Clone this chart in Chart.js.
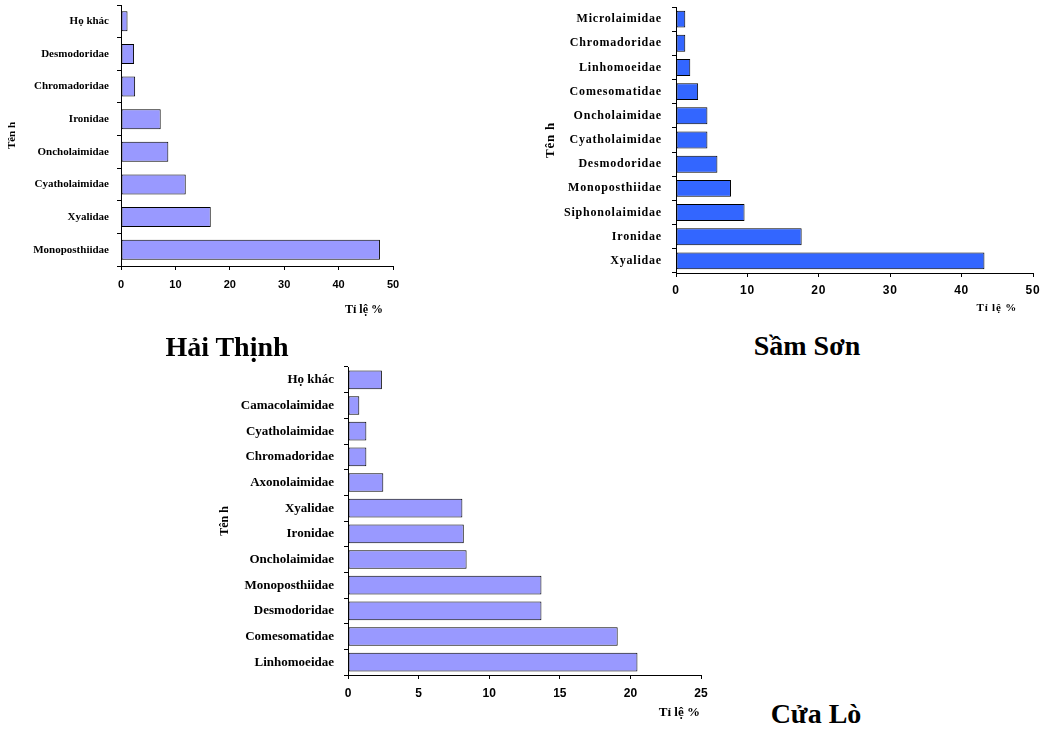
<!DOCTYPE html>
<html>
<head>
<meta charset="utf-8">
<title>Tỉ lệ các họ tuyến trùng</title>
<script src="https://cdn.jsdelivr.net/npm/chart.js@4/dist/chart.umd.min.js"></script>
<style>
  html, body { margin: 0; padding: 0; background: #fff; }
  body { position: relative; width: 1043px; height: 738px; overflow: hidden; }
  canvas { position: absolute; }
  .site {
    position: absolute;
    font: bold 28px "Liberation Serif", "Times New Roman", serif;
    line-height: 28px;
    white-space: nowrap;
    color: #000;
    transform: translateX(-50%);
  }
</style>
</head>
<body>
<canvas id="haiThinh" width="420" height="320" style="left:0;top:0"></canvas>
<canvas id="samSon" width="503" height="320" style="left:540px;top:0"></canvas>
<canvas id="cuaLo" width="540" height="378" style="left:210px;top:360px"></canvas>
<div class="site" style="left:227px;top:333px">Hải Thịnh</div>
<div class="site" style="left:807px;top:332px">Sầm Sơn</div>
<div class="site" style="left:816px;top:700px">Cửa Lò</div>

<script>
// Axis captions shared by the three panels
const valueAxisTitle = 'Tỉ lệ %';
const familyAxisTitle = 'Tên h';

// Hải Thịnh: families (top to bottom) and their share in %
const haiThinhFamilies = ['Họ khác', 'Desmodoridae', 'Chromadoridae', 'Ironidae',
  'Oncholaimidae', 'Cyatholaimidae', 'Xyalidae', 'Monoposthiidae'];
const haiThinhShares = [1.2, 2.4, 2.6, 7.3, 8.7, 11.9, 16.5, 47.6];
const haiThinhTicks = [0, 10, 20, 30, 40, 50];

// Sầm Sơn
const samSonFamilies = ['Microlaimidae', 'Chromadoridae', 'Linhomoeidae', 'Comesomatidae',
  'Oncholaimidae', 'Cyatholaimidae', 'Desmodoridae', 'Monoposthiidae',
  'Siphonolaimidae', 'Ironidae', 'Xyalidae'];
const samSonShares = [1.3, 1.3, 2.0, 3.1, 4.4, 4.4, 5.8, 7.7, 9.6, 17.6, 43.2];
const samSonTicks = [0, 10, 20, 30, 40, 50];

// Cửa Lò
const cuaLoFamilies = ['Họ khác', 'Camacolaimidae', 'Cyatholaimidae', 'Chromadoridae',
  'Axonolaimidae', 'Xyalidae', 'Ironidae', 'Oncholaimidae', 'Monoposthiidae',
  'Desmodoridae', 'Comesomatidae', 'Linhomoeidae'];
const cuaLoShares = [2.4, 0.8, 1.3, 1.3, 2.5, 8.1, 8.2, 8.4, 13.7, 13.7, 19.1, 20.5];
const cuaLoTicks = [0, 5, 10, 15, 20, 25];

const SERIF = '"Liberation Serif", "Times New Roman", serif';
const SANS = '"Liberation Sans", Arial, sans-serif';

// Optional letter spacing for the whole canvas (set before every redraw,
// since resizing a canvas resets its context state)
const spacingPlugin = {
  id: 'spacing',
  beforeDraw(chart, args, opts) {
    if (opts && opts.px) chart.ctx.letterSpacing = opts.px + 'px';
  }
};

// Value-axis caption, right-aligned a little inside the end of the axis
const captionPlugin = {
  id: 'caption',
  afterDraw(chart, args, o) {
    const x = chart.scales.x;
    const ctx = chart.ctx;
    ctx.save();
    ctx.font = 'bold ' + o.size + 'px ' + SERIF;
    ctx.fillStyle = '#000';
    ctx.textAlign = 'right';
    ctx.textBaseline = 'middle';
    ctx.fillText(o.text, chart.chartArea.right - o.inset, x.bottom - o.fromBottom);
    ctx.restore();
  }
};

function drawPanel(id, families, shares, ticks, p) {
  const step = ticks[1] - ticks[0];
  return new Chart(document.getElementById(id), {
    type: 'bar',
    data: {
      labels: families,
      datasets: [{
        data: shares,
        backgroundColor: p.fill,
        borderColor: '#000',
        borderWidth: 1,
        borderSkipped: false,
        barPercentage: p.bar,
        categoryPercentage: 1
      }]
    },
    plugins: [spacingPlugin, captionPlugin],
    options: {
      indexAxis: 'y',
      responsive: false,
      animation: false,
      events: [],
      layout: { padding: { top: p.top, right: p.right, left: 0, bottom: 0 } },
      plugins: {
        legend: { display: false },
        tooltip: { enabled: false },
        spacing: { px: p.spacing || 0 },
        caption: { text: valueAxisTitle, size: p.xTitleSize, inset: p.xTitleInset, fromBottom: p.xTitleFromBottom }
      },
      scales: {
        y: {
          type: 'category',
          offset: true,
          grid: { drawOnChartArea: false, offset: true, tickLength: 4, color: '#000', lineWidth: 1 },
          border: { display: true, color: '#000', width: 1 },
          ticks: {
            color: '#000', autoSkip: false, padding: p.catPad,
            font: { family: SERIF, weight: 'bold', size: p.catSize }
          },
          title: {
            display: true, text: familyAxisTitle, color: '#000',
            font: { family: SERIF, weight: 'bold', size: p.yTitleSize, lineHeight: 1.2 },
            padding: { top: p.yTitlePad, bottom: 0 }
          },
          afterFit(s) { s.width = p.yWidth; s.paddingTop = 0; s.paddingBottom = 0; }
        },
        x: {
          type: 'linear',
          min: ticks[0],
          max: ticks[ticks.length - 1],
          grid: { drawOnChartArea: false, tickLength: 4, color: '#000', lineWidth: 1 },
          border: { display: true, color: '#000', width: 1 },
          ticks: {
            stepSize: step, color: '#000', padding: p.tickPad,
            font: { family: SANS, weight: 'bold', size: p.tickSize, lineHeight: 1.2 }
          },
          afterFit(s) { s.height = p.xHeight; s.paddingLeft = 0; s.paddingRight = 0; }
        }
      }
    }
  });
}

drawPanel('haiThinh', haiThinhFamilies, haiThinhShares, haiThinhTicks, {
  fill: '#9999FF', bar: 0.61, top: 5, right: 27, yWidth: 121, xHeight: 54,
  catSize: 11, catPad: 8, tickSize: 11, tickPad: 8,
  yTitleSize: 11, yTitlePad: 6, xTitleSize: 12, xTitleInset: 10, xTitleFromBottom: 10
});

drawPanel('samSon', samSonFamilies, samSonShares, samSonTicks, {
  fill: '#3366FF', bar: 0.70, top: 7, right: 10, yWidth: 136, xHeight: 47,
  catSize: 12, catPad: 10, tickSize: 12, tickPad: 6, spacing: 0.8,
  yTitleSize: 13, yTitlePad: 3, xTitleSize: 11, xTitleInset: 16, xTitleFromBottom: 12
});

drawPanel('cuaLo', cuaLoFamilies, cuaLoShares, cuaLoTicks, {
  fill: '#9999FF', bar: 0.73, top: 7, right: 49, yWidth: 138, xHeight: 63,
  catSize: 13, catPad: 10, tickSize: 12, tickPad: 7,
  yTitleSize: 12, yTitlePad: 8, xTitleSize: 13, xTitleInset: 1, xTitleFromBottom: 25
});
</script>
</body>
</html>
